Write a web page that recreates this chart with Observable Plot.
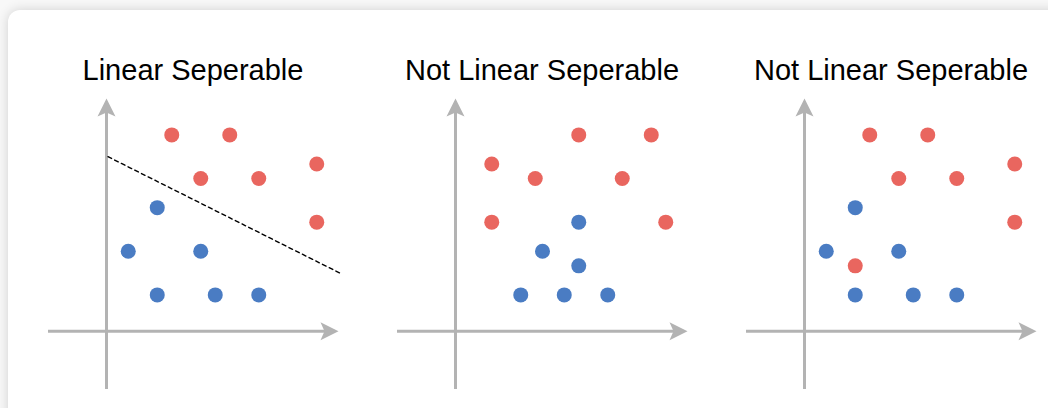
<!DOCTYPE html>
<html>
<head>
<meta charset="utf-8">
<script src="https://cdn.jsdelivr.net/npm/d3@7"></script>
<script src="https://cdn.jsdelivr.net/npm/@observablehq/plot@0.6"></script>
<style>
  html, body { margin: 0; padding: 0; background: #f8f8f8; width: 1048px; height: 408px; overflow: hidden; }
  #card { position: absolute; left: 8px; top: 10px; width: 1090px; height: 430px; background: #fff;
          border-radius: 12px; box-shadow: 0 0 12px rgba(0,0,0,0.16); }
  .panel { position: absolute; top: 0; width: 349px; height: 408px; }
  .title { position: absolute; left: 48px; width: 290px; top: 56px; text-align: center;
           font: 29px/29px "Liberation Sans", Arial, sans-serif; color: #000; white-space: nowrap; }
  .panel svg { position: absolute; top: 90px; left: 0; background: transparent; }
</style>
</head>
<body>
<div id="card"></div>
<div id="root"></div>
<script>
// ---- data ----
const panelTitles = ["Linear Seperable", "Not Linear Seperable", "Not Linear Seperable"];

const redPoints1  = [[4.5, 13.5], [8.5, 13.5], [6.5, 10.5], [10.5, 10.5], [14.5, 11.5], [14.5, 7.5]];
const bluePoints1 = [[3.5, 8.5], [1.5, 5.5], [6.5, 5.5], [3.5, 2.5], [7.5, 2.5], [10.5, 2.5]];
const boundary1   = [[0.1, 12], [16.1, 4]];

const redPoints2  = [[8.5, 13.5], [13.5, 13.5], [2.5, 11.5], [5.5, 10.5], [11.5, 10.5], [2.5, 7.5], [14.5, 7.5]];
const bluePoints2 = [[8.5, 7.5], [6, 5.5], [8.5, 4.5], [4.5, 2.5], [7.5, 2.5], [10.5, 2.5]];

const redPoints3  = [[4.5, 13.5], [8.5, 13.5], [6.5, 10.5], [10.5, 10.5], [14.5, 11.5], [14.5, 7.5], [3.5, 4.5]];
const bluePoints3 = [[3.5, 8.5], [1.5, 5.5], [6.5, 5.5], [3.5, 2.5], [7.5, 2.5], [10.5, 2.5]];

const axisMin = -4;
const axisMax = 16;

// ---- styles ----
const RED = "#E9665F";
const BLUE = "#4A7CC3";
const AXIS = "#B3B3B3";

const arrowRight = { draw(ctx) { ctx.moveTo(0, 0); ctx.lineTo(-18, -9); ctx.lineTo(-14, 0); ctx.lineTo(-18, 9); ctx.closePath(); } };
const arrowUp    = { draw(ctx) { ctx.moveTo(0, 0); ctx.lineTo(9, 18); ctx.lineTo(0, 14); ctx.lineTo(-9, 18); ctx.closePath(); } };

const panels = [
  { title: panelTitles[0], red: redPoints1, blue: bluePoints1, boundary: boundary1 },
  { title: panelTitles[1], red: redPoints2, blue: bluePoints2, boundary: null },
  { title: panelTitles[2], red: redPoints3, blue: bluePoints3, boundary: null }
];

const root = document.getElementById("root");
const px = d => d[0], py = d => d[1];

panels.forEach((p, i) => {
  const div = document.createElement("div");
  div.className = "panel";
  div.style.left = (349 * i) + "px";
  const t = document.createElement("div");
  t.className = "title";
  t.textContent = p.title;
  div.appendChild(t);

  const marks = [
    Plot.ruleY([0], { x1: axisMin, x2: axisMax - 0.25, stroke: AXIS, strokeWidth: 3 }),
    Plot.ruleX([0], { y1: axisMin, y2: axisMax - 0.25, stroke: AXIS, strokeWidth: 3 }),
    Plot.dot([0], { x: axisMax, y: 0, symbol: arrowRight, fill: AXIS, r: 5 }),
    Plot.dot([0], { x: 0, y: axisMax, symbol: arrowUp, fill: AXIS, r: 5 }),
    Plot.dot(p.red, { x: px, y: py, r: 7.5, fill: RED }),
    Plot.dot(p.blue, { x: px, y: py, r: 7.5, fill: BLUE })
  ];
  if (p.boundary) {
    marks.push(Plot.line(p.boundary, { x: px, y: py, stroke: "#000", strokeWidth: 1.4, strokeDasharray: "4,3.5" }));
  }

  const chart = Plot.plot({
    width: 349,
    height: 318,
    marginLeft: 48,
    marginRight: 11,
    marginTop: 8,
    marginBottom: 19,
    x: { domain: [axisMin, axisMax], axis: null },
    y: { domain: [axisMin, axisMax], axis: null },
    style: { background: "transparent", overflow: "visible" },
    marks
  });
  div.appendChild(chart);
  root.appendChild(div);
});
</script>
</body>
</html>
